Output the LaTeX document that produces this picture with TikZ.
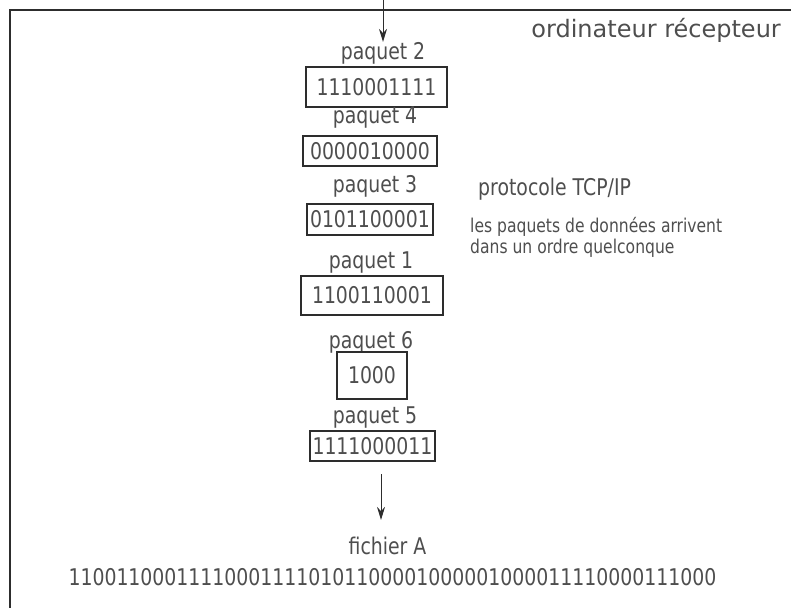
\documentclass[tikz,border=0pt]{standalone}
\usepackage{fontspec}
\setmainfont{DejaVu Sans}[FakeStretch=0.82]
\newfontfamily\titlefont{DejaVu Sans}
\usetikzlibrary{arrows.meta}

\definecolor{txtgray}{RGB}{78,78,78}
\definecolor{linegray}{RGB}{45,45,45}

\tikzset{
  pkname/.style={text=txtgray, inner sep=0pt, font=\fontsize{23}{26}\selectfont},
  pkbox/.style={draw=linegray, line width=1.6pt, text=txtgray, inner sep=0pt,
    font=\fontsize{23}{26}\selectfont},
  note/.style={text=txtgray, inner sep=0pt, anchor=west, align=left},
  arr/.style={-{Stealth[length=13pt,width=8pt]}, line width=1pt, draw=linegray}
}

\begin{document}
\begin{tikzpicture}[x=1pt,y=-1pt]
\useasboundingbox (0,0) rectangle (791,608);

% cadre
\draw[linegray, line width=2pt] (791,10) -- (10,10) -- (10,608);

\node[pkname, anchor=east, font=\titlefont\fontsize{24}{28}\selectfont] (title) at (781,30.5) {ordinateur récepteur};

% paquets
\node[pkname] (n2) at (383,53) {paquet 2};
\node[pkbox, minimum width=141pt, minimum height=40pt] (b2) at (376.5,87) {1110001111};
\node[pkname] (n4) at (375,118) {paquet 4};
\node[pkbox, minimum width=134pt, minimum height=30pt] (b4) at (370,151) {0000010000};
\node[pkname] (n3) at (375,186) {paquet 3};
\node[pkbox, minimum width=126pt, minimum height=31pt] (b3) at (370,219.5) {0101100001};
\node[pkname] (n1) at (371,263) {paquet 1};
\node[pkbox, minimum width=142pt, minimum height=39pt] (b1) at (372,295.5) {1100110001};
\node[pkname] (n6) at (371,342.5) {paquet 6};
\node[pkbox, minimum width=70pt, minimum height=47pt] (b6) at (372,375.5) {1000};
\node[pkname] (n5) at (375,417.5) {paquet 5};
\node[pkbox, minimum width=125pt, minimum height=30pt] (b5) at (372.5,446) {1111000011};

\node[note, font=\fontsize{23}{26}\selectfont] (tcp) at (478,189) {protocole TCP/IP};
\node[note, font=\fontsize{19}{21.5}\selectfont] (desc) at (470,237.5)
  {les paquets de données arrivent\\dans un ordre quelconque};

\node[pkname] (fich) at (387.5,546) {fichier A};
\node[pkname] (data) at (392.5,577) {110011000111100011110101100001000001000011110000111000};

\coordinate (in) at (383,0);
\coordinate (out) at (381,474);
\draw[arr] (in) -- (n2.north);
\draw[arr, shorten >=17pt] (out) -- (out |- fich.north);

\end{tikzpicture}
\end{document}
